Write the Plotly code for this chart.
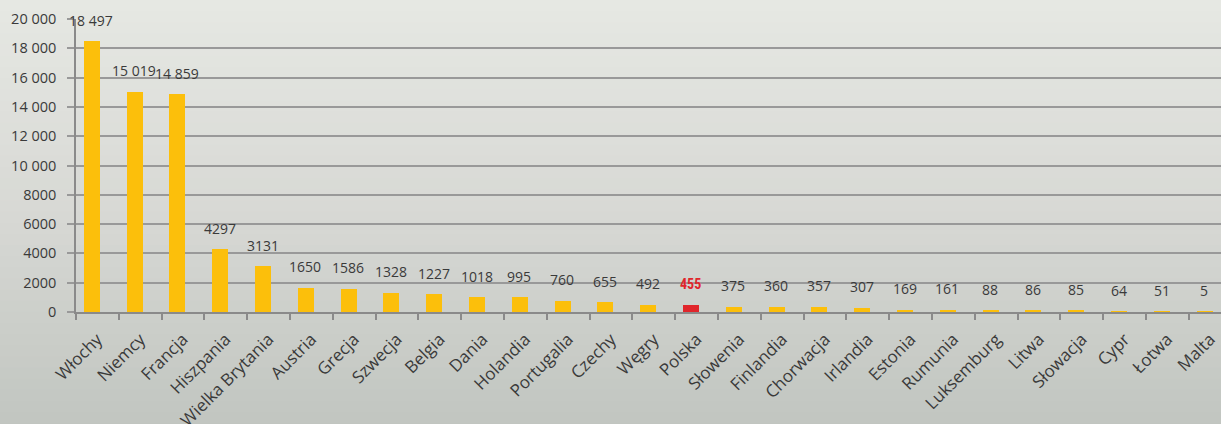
import plotly.graph_objects as go

countries = ["Włochy", "Niemcy", "Francja", "Hiszpania", "Wielka Brytania", "Austria",
             "Grecja", "Szwecja", "Belgia", "Dania", "Holandia", "Portugalia", "Czechy",
             "Węgry", "Polska", "Słowenia", "Finlandia", "Chorwacja", "Irlandia", "Estonia",
             "Rumunia", "Luksemburg", "Litwa", "Słowacja", "Cypr", "Łotwa", "Malta"]
values = [18497, 15019, 14859, 4297, 3131, 1650, 1586, 1328, 1227, 1018, 995, 760, 655,
          492, 455, 375, 360, 357, 307, 169, 161, 88, 86, 85, 64, 51, 5]
highlight = "Polska"
y_ticks = [0, 2000, 4000, 6000, 8000, 10000, 12000, 14000, 16000, 18000, 20000]

YELLOW = "#fcbf0b"
RED = "#e0262b"


def fmt(v):
    s = str(v)
    if v >= 10000:
        s = s[:-3] + " " + s[-3:]
    return s


colors = [RED if c == highlight else YELLOW for c in countries]

fig = go.Figure()

# background gradient bands (paper coords; plot area is 293px tall, top margin 19, bottom 112)
top = (231, 233, 228)
mid = (216, 217, 213)
bot = (193, 197, 192)
n = 40
y_hi, y_lo = 1.1, -0.42
for i in range(n):
    t = i / (n - 1)
    if t < 0.5:
        a, b, u = top, mid, t / 0.5
    else:
        a, b, u = mid, bot, (t - 0.5) / 0.5
    col = tuple(int(a[k] + (b[k] - a[k]) * u) for k in range(3))
    step = (y_hi - y_lo) / n
    fig.add_shape(type="rect", xref="paper", yref="paper",
                  x0=-0.1, x1=1.1,
                  y0=y_hi - (i + 1) * step - 0.003,
                  y1=y_hi - i * step + 0.003,
                  line_width=0, fillcolor="rgb(%d,%d,%d)" % col, layer="below")

fig.add_trace(go.Bar(
    x=countries, y=values, marker_color=colors, marker_line_width=0,
    width=0.375, offset=-0.32, hoverinfo="x+y",
))

for c, v in zip(countries, values):
    fig.add_annotation(
        x=c, y=v, text=("<b>%s</b>" % fmt(v)) if c == highlight else fmt(v),
        showarrow=False, yshift=21, xshift=-6,
        font=dict(size=14, color=RED if c == highlight else "#3a3a3a",
                  family="Open Sans" if c != highlight else "Roboto Condensed, Liberation Sans Narrow, Arial Narrow, sans-serif"),
    )

fig.update_layout(
    width=1221, height=424,
    margin=dict(l=76, r=0, t=19, b=112, autoexpand=False),
    paper_bgcolor="#c8cbc6", plot_bgcolor="rgba(0,0,0,0)",
    showlegend=False, bargap=0,
    font=dict(family="Open Sans", size=14, color="#3a3a3a"),
)
fig.update_xaxes(
    type="category", range=[-0.5, 26.25], automargin=False,
    tickangle=-45, tickson="boundaries", ticks="outside", ticklen=6,
    tickcolor="#8a8a8a", tickwidth=1.5, ticklabelstandoff=9,
    showline=True, linecolor="#8a8a8a", linewidth=1.5,
    showgrid=False, tickfont=dict(size=17, color="#3a3a3a"),
)
fig.update_yaxes(
    range=[0, 20000], tickvals=y_ticks, ticktext=[fmt(v) for v in y_ticks],
    automargin=False, ticklabelstandoff=8,
    showgrid=True, gridcolor="#999999", gridwidth=1.6,
    ticks="outside", ticklen=7, tickcolor="#999999", tickwidth=1.6,
    showline=True, linecolor="#8a8a8a", linewidth=1.5,
    zeroline=False, tickfont=dict(size=14.5, color="#3a3a3a"),
)

fig.write_html("out.html", config={"displayModeBar": False},
               post_script="document.body.style.margin='0';document.body.style.overflow='hidden';")
